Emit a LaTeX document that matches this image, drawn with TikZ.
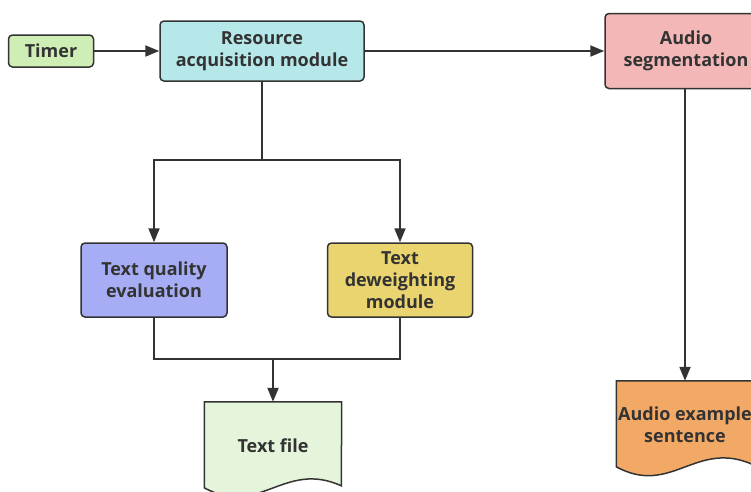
\documentclass[tikz,border=0pt]{standalone}
\usepackage{fontspec}
\setmainfont{Open Sans}
\usetikzlibrary{arrows.meta,calc,backgrounds}
\definecolor{ink}{HTML}{333333}
\definecolor{cTimer}{HTML}{CFEEB6}
\definecolor{cRes}{HTML}{B6E8EA}
\definecolor{cAud}{HTML}{F4B7B7}
\definecolor{cTQ}{HTML}{A6ADF4}
\definecolor{cTD}{HTML}{EAD470}
\definecolor{cTF}{HTML}{E5F5DB}
\definecolor{cAE}{HTML}{F2A966}
\tikzset{
  box/.style={draw=ink, line width=1.5pt, rounded corners=4pt, text=ink,
    font=\fontsize{18}{22}\selectfont\bfseries, align=center, inner sep=1pt},
  doctext/.style={text=ink, font=\fontsize{18}{22}\selectfont\bfseries, align=center,
    minimum width=137pt, minimum height=88pt, inner sep=0pt},
  docline/.style={draw=ink, line width=1.5pt},
  conn/.style={draw=ink, line width=2pt, -{Triangle[length=14pt,width=11pt]}},
  plain/.style={draw=ink, line width=2pt}
}
\begin{document}
\begin{tikzpicture}[x=1pt,y=-1pt]
\clip (0,0) rectangle (751,491);
\node[box, fill=cTimer, minimum width=85pt, minimum height=32pt] (timer) at (51,51) {Timer};
\node[box, fill=cRes, minimum width=204pt, minimum height=60pt] (res) at (262,51) {Resource\\acquisition module};
\node[box, fill=cAud, minimum width=162pt, minimum height=75pt] (aud) at (686,51) {Audio\\segmentation};
\node[box, fill=cTQ, minimum width=146pt, minimum height=74pt] (tq) at (154,280) {Text quality\\evaluation};
\node[box, fill=cTD, minimum width=145pt, minimum height=74pt] (td) at (400,280) {Text\\deweighting\\module};
\node[doctext] (tf) at (273,446) {Text file};
\node[doctext] (ae) at (685,425) {Audio example\\sentence};
\begin{scope}[on background layer]
\fill[white] (0,0) rectangle (751,491);
\path[docline, fill=cTF] (tf.north west) -- (tf.north east) -- ($(tf.north west)+(137,84)$)
  .. controls ($(tf.north west)+(80,58)$) and ($(tf.north west)+(55,116)$) .. ($(tf.north west)+(0,86)$) -- cycle;
\path[docline, fill=cAE] (ae.north west) -- (ae.north east) -- ($(ae.north west)+(137,84)$)
  .. controls ($(ae.north west)+(80,58)$) and ($(ae.north west)+(55,116)$) .. ($(ae.north west)+(0,86)$) -- cycle;
\end{scope}
\coordinate (j1) at (262,160);
\coordinate (j2) at (273,359);
\draw[conn] (timer) -- (res);
\draw[conn] (res) -- (aud);
\draw[plain] (res) -- (j1);
\draw[conn] (j1) -| (tq);
\draw[conn] (j1) -| (td);
\draw[plain] (tq) |- (j2);
\draw[plain] (td) |- (j2);
\draw[conn] (j2) -- (tf);
\draw[conn] (aud.south -| ae.north) -- (ae.north);
\end{tikzpicture}
\end{document}
